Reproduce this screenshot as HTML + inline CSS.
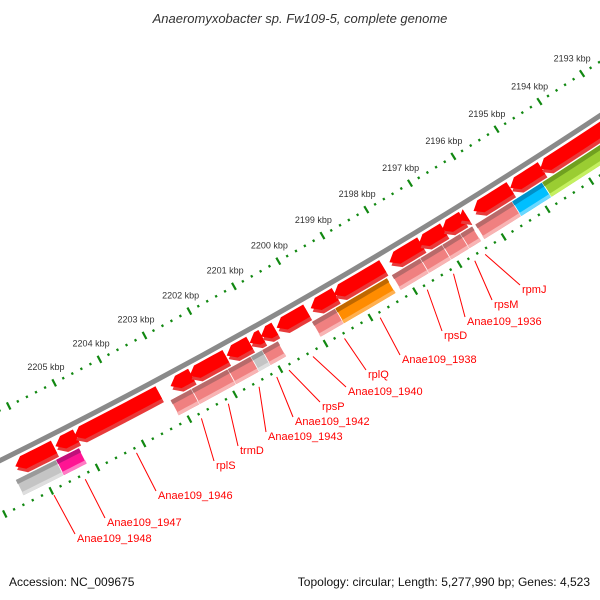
<!DOCTYPE html>
<html><head><meta charset="utf-8">
<style>
html,body{margin:0;padding:0;background:#fff;}
svg{display:block;font-family:"Liberation Sans","DejaVu Sans",sans-serif;}
</style></head>
<body>
<svg id="map" width="600" height="600" viewBox="0 0 600 600" xmlns="http://www.w3.org/2000/svg">
<text x="300" y="23" text-anchor="middle" font-size="13" font-style="italic" fill="#333">Anaeromyxobacter sp. Fw109-5, complete genome</text>
<text x="9" y="586" font-size="12" fill="#111">Accession: NC_009675</text>
<text x="590" y="586" text-anchor="end" font-size="12" fill="#111">Topology: circular; Length: 5,277,990 bp; Genes: 4,523</text>
<g id="layer"></g>
</svg>
<script>
// ---- data (kbp) ----
const tickLabelKbp = [2193,2194,2195,2196,2197,2198,2199,2200,2201,2202,2203,2204,2205];
const geneStart = [2206.85,2205.57,2205.09,2203.28,2202.56,2201.80,2201.27,2201.00,2200.71,2200.00,2199.36,2198.29,2197.43,2196.91,2196.48,2196.39,2195.39,2194.67,2192.86];
const geneEnd   = [2207.50,2206.41,2205.54,2205.13,2203.02,2202.60,2201.78,2201.27,2201.02,2200.67,2199.91,2199.39,2198.14,2197.48,2196.95,2196.57,2196.23,2195.39,2194.70];
const geneNames = ["","Anae109_1948","Anae109_1947","Anae109_1946","rplS","trmD","Anae109_1943","Anae109_1942","rpsP","Anae109_1940","rplQ","Anae109_1938","rpsD","Anae109_1936","rpsM","rpmJ","","",""];
const geneStrandColor = ["blue","red","red","red","red","red","red","red","red","red","red","red","red","red","red","red","red","red","red"];
const cogStart = [2205.59,2205.15,2202.62,2201.89,2201.29,2201.07,2200.78,2199.39,2198.34,2197.57,2197.09,2196.64,2196.41,2195.39,2194.81,2193.10];
const cogEnd   = [2206.52,2205.65,2203.15,2202.69,2201.89,2201.38,2201.13,2200.02,2199.50,2198.23,2197.59,2197.09,2196.68,2196.34,2195.50,2194.81];
const cogClass = ["none","M","J","J","J","none","J","J","K","J","J","J","J","J","F","C"];
// label text placement (layout)
const labelPos = {"Anae109_1948":[77,542],"Anae109_1947":[107,526],"Anae109_1946":[158,499],"rplS":[216,469],"trmD":[240,454],"Anae109_1943":[268,440],"Anae109_1942":[295,425],"rpsP":[322,410],"Anae109_1940":[348,395],"rplQ":[368,378],"Anae109_1938":[402,363],"rpsD":[444,339],"Anae109_1936":[467,325],"rpsM":[494,308],"rpmJ":[522,293]};

// ---- geometry ----
const CX=-2450, CY=-4496, R0=5529, K0=2205, TH0=62.83, DEG=0.533;
function th(k){return (TH0+(k-K0)*DEG)*Math.PI/180;}
function pt(k,r){const a=th(k);return [CX+r*Math.cos(a),CY+r*Math.sin(a)];}
function arc(k1,k2,r,n){const o=[];for(let i=0;i<=n;i++){o.push(pt(k1+(k2-k1)*i/n,r));}return o;}
function poly(points){return points.map(p=>p[0].toFixed(2)+","+p[1].toFixed(2)).join(" ");}
const NS="http://www.w3.org/2000/svg";
const layer=document.getElementById('layer');
function mk(tag,attrs,parent){const e=document.createElementNS(NS,tag);for(const k in attrs)e.setAttribute(k,attrs[k]);(parent||layer).appendChild(e);return e;}

// backbone
const bb=mk('path',{d:(()=>{const a=pt(2208,R0),b=pt(2191,R0);return `M${a[0]},${a[1]} A${R0},${R0} 0 0 0 ${b[0]},${b[1]}`;})(),fill:'none',stroke:'#8a8a8a','stroke-width':5});



// tick rings
function ring(r,name){
  const g=mk('g',{});
  
  
  for(let i=2191*5;i<=2208*5;i++){
    const k=i/5; const major=(i%5===0);
    const half=major?4:1.2;
    const a=pt(k,r-half),b=pt(k,r+half);
    const t=mk('line',{x1:a[0],y1:a[1],x2:b[0],y2:b[1],stroke:'#118811','stroke-width':2.2},g);
    
    
  }
}
ring(R0-45,'upper-tick-ring');
ring(R0+50,'lower-tick-ring');
tickLabelKbp.forEach(k=>{
  const p=pt(k,R0-63);
  const t=mk('text',{x:p[0],y:p[1]+3,'text-anchor':'middle','font-size':9,fill:'#333'});
  t.textContent=k+" kbp";
  
  
});

// genes (arrows pointing to higher kbp)
function arrowPts(ka,kb,rIn,rOut){
  const head=Math.min(0.17,kb-ka); const kh=kb-head; const rm=(rIn+rOut)/2;
  return arc(ka,kh,rIn,6).concat([pt(kb,rm)]).concat(arc(kh,ka,rOut,6));
}
const geneColors={red:['#ff0000','#cc1010'],blue:['#1010ff','#0808aa']};
geneStart.forEach((s,i)=>{
  const e=geneEnd[i]; const c=geneColors[geneStrandColor[i]];
  const g=mk('g',{});
  
  
  mk('polygon',{points:poly(arrowPts(s,e,R0+9,R0+23)),fill:'#e83a3a'},g);
  mk('polygon',{points:poly(arrowPts(s,e,R0+5,R0+19)),fill:c[0]},g);
});

// COG row
const cogColors={J:['#f08080','#b86a6a','#f8b4b4'],none:['#c4c4c4','#9a9a9a','#dedede'],M:['#ff1493','#c0107a','#ff7ac4'],K:['#ff8c00','#c06800','#ffb050'],F:['#00bfff','#0090c8','#6ad8ff'],C:['#9acd32','#70a020','#c4f060']};
cogStart.forEach((s,i)=>{
  const e=cogEnd[i]; const c=cogColors[cogClass[i]];
  const g=mk('g',{});
  
  
  const r1=R0+24,r2=R0+42;
  mk('polygon',{points:poly(arc(s,e,r1,6).concat(arc(e,s,r2,6))),fill:c[0],stroke:'#fff','stroke-width':0.8},g);
  mk('polygon',{points:poly(arc(s,e,r1+0.5,6).concat(arc(e,s,r1+5,6))),fill:c[1]},g);
  mk('polygon',{points:poly(arc(s,e,r2-4,6).concat(arc(e,s,r2-0.5,6))),fill:c[2]},g);
});

// labels
geneNames.forEach((n,i)=>{
  if(!n||!labelPos[n])return;
  const mid=(geneStart[i]+geneEnd[i])/2; const a=pt(mid,R0+55); const lp=labelPos[n];
  const l=mk('line',{x1:a[0],y1:a[1],x2:lp[0]-2,y2:lp[1]-8,stroke:'#ff0000','stroke-width':1});
  
  
  const t=mk('text',{x:lp[0],y:lp[1],'font-size':11,fill:'#ff0000'});
  t.textContent=n;
  
  
});
</script>
</body></html>
